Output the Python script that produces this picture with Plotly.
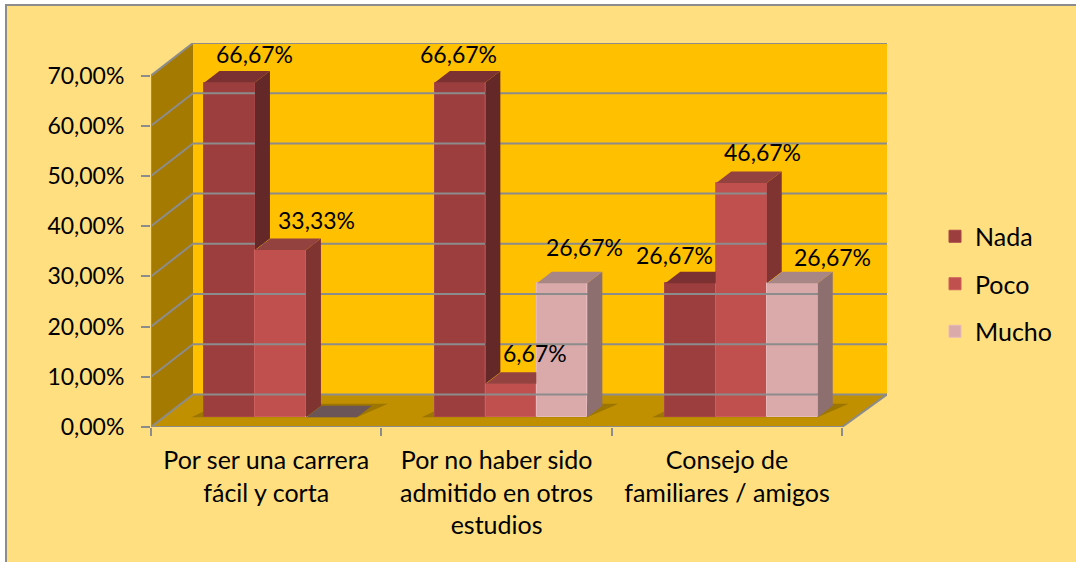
import plotly.graph_objects as go

categories = ["Por ser una carrera<br>fácil y corta",
              "Por no haber sido<br>admitido en otros<br>estudios",
              "Consejo de<br>familiares / amigos"]
nada = [66.67, 66.67, 26.67]
poco = [33.33, 6.67, 46.67]
mucho = [0.0, 26.67, 26.67]
y_ticks = [0, 10, 20, 30, 40, 50, 60, 70]

FONT = "Lato"
GRAY = "#8C8C8C"
PX_X = 230.4          # px per category
PX_Y = 5.02           # px per percent
L, R, T, B = 151, 189, 43, 135  # margins
PLOT_W = 1076 - L - R
PLOT_H = 562 - T - B
XMAX = PLOT_W / PX_X
YMAX = PLOT_H / PX_Y
DX = XMAX - 3         # chart depth at the right end
DX_L = 42 / PX_X      # chart depth at the left end
DY = YMAX - 70
BAR_PITCH = 51 / PX_X
BAR_W = 50.5 / PX_X
BAR_DX = 15 / PX_X
BAR_DY = 11.5 / PX_Y
BASE = 0.3 * DY
SHIFT = 0.3 * DX + 1.3 / PX_X

series = [
    dict(name="Nada", v=nada, front="#9C3E3E", side="#652828", top="#7B3131", edge="#A84747"),
    dict(name="Poco", v=poco, front="#C0504D", side="#803432", top="#944240", edge="#CC5E5B"),
    dict(name="Mucho", v=mucho, front="#D9AAA9", side="#8E6F6F", top="#A98686", edge="#E6BABA"),
]
# label nudges in px from the top-right-front of each bar (layout, not data)
nudges = {(0, 0): (0, 29), (0, 1): (11, 30), (0, 2): (0, 0),
          (1, 0): (-27, 29), (1, 1): (-1, 31), (1, 2): (-3, 36),
          (2, 0): (-41, 28), (2, 1): (-4, 31), (2, 2): (15, 26)}


def path(pts):
    return "M" + " L".join(f"{x:.5f},{y:.5f}" for x, y in pts) + " Z"


def bar_left(cat, s):
    return cat + 0.5 + SHIFT - 1.5 * BAR_PITCH + s * BAR_PITCH


shapes = [
    # chart area
    dict(type="rect", xref="paper", yref="paper",
         x0=(6 - L) / PLOT_W, x1=1.2 + (200 / PLOT_W), y0=-0.6, y1=1 + (T - 5) / PLOT_H,
         fillcolor="#FFDF80", line=dict(color=GRAY, width=2), layer="below"),
    # walls
    dict(type="path", path=path([(DX_L, DY), (XMAX, DY), (XMAX, YMAX), (DX_L, YMAX)]),
         fillcolor="#FFC000", line_width=0, layer="below"),
    dict(type="path", path=path([(0, 0), (DX_L, DY), (DX_L, YMAX), (0, 70)]),
         fillcolor="#A47A00", line_width=0, layer="below"),
    dict(type="path", path=path([(0, 0), (3, 0), (XMAX, DY), (DX_L, DY)]),
         fillcolor="#C09000", line_width=0, layer="below"),
]
# floor shadows
for cat in range(3):
    x0 = bar_left(cat, 0)
    x1 = bar_left(cat, 2) + BAR_W
    shapes.append(dict(
        type="path",
        path=path([(x0 - 13 / PX_X, BASE), (x1, BASE),
                   (x1 + BAR_DX + 16 / PX_X, BASE + BAR_DY + 0.4),
                   (x0 + BAR_DX, BASE + BAR_DY + 0.4)]),
        fillcolor="#9C7600", line_width=0, layer="below"))

fig = go.Figure()

# grid lines
gx, gy = [], []
for v in y_ticks:
    gx += [0, DX_L, XMAX, None]
    gy += [v, v + DY, v + DY, None]
gx += [0, 0, None, 0, 3, XMAX]
gy += [0, 70, None, 0, 0, DY]
fig.add_trace(go.Scatter(x=gx, y=gy, mode="lines", line=dict(color=GRAY, width=2),
                         showlegend=False, hoverinfo="skip", cliponaxis=False))

# front faces: real bars
for s, d in enumerate(series):
    fig.add_trace(go.Bar(
        x=[bar_left(c, s) + BAR_W / 2 for c in range(3)], y=d["v"], base=BASE,
        width=BAR_W, name=d["name"], legendgroup=d["name"],
        marker=dict(color=d["front"], line=dict(color=d["edge"], width=1))))

# tops and sides, clipped where the next bar's front hides them
for c in range(3):
    for s, d in enumerate(series):
        v = d["v"][c]
        nxt = series[s + 1]["v"][c] if s < 2 else None
        x0 = bar_left(c, s)
        x1 = x0 + BAR_W
        top_y = BASE + v
        if nxt is None or nxt < v:
            low = BASE + (nxt if nxt is not None else 0)
            if v > 0:
                fig.add_trace(go.Scatter(
                    x=[x1, x1 + BAR_DX, x1 + BAR_DX, x1, x1],
                    y=[low, low + BAR_DY, top_y + BAR_DY, top_y, low],
                    fill="toself", mode="none", fillcolor=d["side"],
                    showlegend=False, hoverinfo="skip"))
            tx = [x0, x1, x1 + BAR_DX, x0 + BAR_DX, x0]
            ty = [top_y, top_y, top_y + BAR_DY, top_y + BAR_DY, top_y]
        else:
            tx = [x0, x1, x1, x0 + BAR_DX, x0]
            ty = [top_y, top_y, top_y + BAR_DY, top_y + BAR_DY, top_y]
        color = d["top"] if v > 0 else "#6B5557"
        fig.add_trace(go.Scatter(x=tx, y=ty, fill="toself", mode="none", fillcolor=color,
                                 showlegend=False, hoverinfo="skip"))

annotations = []
for c in range(3):
    for s, d in enumerate(series):
        v = d["v"][c]
        if v <= 0:
            continue
        nx, ny = nudges[(c, s)]
        annotations.append(dict(
            x=bar_left(c, s) + BAR_W, y=BASE + v, xref="x", yref="y", showarrow=False,
            text=f"{v:.2f}%".replace(".", ","), xshift=nx, yshift=ny,
            font=dict(family=FONT, size=23, color="#000000")))

fig.update_layout(
    width=1076, height=562, autosize=False,
    margin=dict(l=L, r=R, t=T, b=B, pad=0),
    paper_bgcolor="#FFFFFF", plot_bgcolor="rgba(0,0,0,0)",
    barmode="overlay", bargap=0,
    font=dict(family=FONT, size=23, color="#000000"),
    shapes=shapes, annotations=annotations,
    legend=dict(x=(935 - L) / PLOT_W, y=1 - (284 - T) / PLOT_H, xanchor="left", yanchor="middle",
                bgcolor="rgba(0,0,0,0)", tracegroupgap=12, font=dict(family=FONT, size=25),
                traceorder="grouped", itemwidth=30),
    xaxis=dict(range=[0, XMAX], tickvals=[0.5, 1.5, 2.5], ticktext=categories, ticks="",
               showgrid=False, zeroline=False, showline=False, ticklabelstandoff=16,
               tickfont=dict(family=FONT, size=25),
               minor=dict(tickvals=[0, 1, 2, 3], ticks="outside", ticklen=8, tickwidth=2,
                          tickcolor=GRAY, showgrid=False)),
    yaxis=dict(range=[0, YMAX], tickvals=y_ticks,
               ticktext=[f"{v:.2f}%".replace(".", ",") for v in y_ticks],
               ticks="outside", ticklen=9, tickwidth=2, tickcolor=GRAY,
               showgrid=False, zeroline=False, showline=False, ticklabelstandoff=12,
               tickfont=dict(family=FONT, size=23)),
)

fig.write_html("out.html", post_script="document.body.style.margin='0';",
               config={"displayModeBar": False})
